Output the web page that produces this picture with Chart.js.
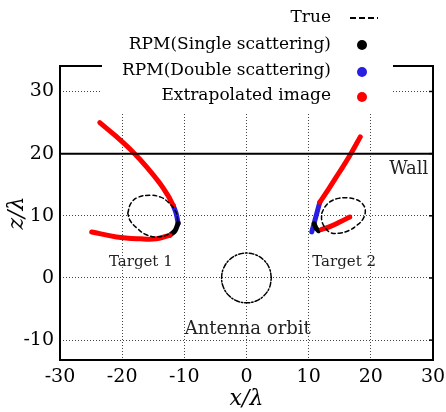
<!DOCTYPE html>
<html>
<head>
<meta charset="utf-8">
<script src="https://cdn.jsdelivr.net/npm/chart.js@4/dist/chart.umd.min.js"></script>
<style>
  html, body { margin: 0; padding: 0; background: #fff; }
  #wrap { width: 446px; height: 412px; }
</style>
</head>
<body>
<div id="wrap"><canvas id="chartCanvas" width="446" height="412"></canvas></div>
<script>
// axis ticks
const xTicks = [-30, -20, -10, 0, 10, 20, 30];
const yTicks = [-10, 0, 10, 20, 30];

// true shapes
const target1True = [[-19.1,10.4],[-18.6,12.0],[-17.4,13.0],[-15.5,13.3],[-13.8,13.0],[-12.6,12.2],[-11.5,10.9],[-11.1,9.5],[-11.4,8.2],[-12.4,7.1],[-14.4,6.6],[-16.2,7.0],[-17.6,8.0],[-18.7,9.2],[-19.1,10.4]];
const target2True = [[12.1,10.4],[12.6,11.4],[13.5,12.3],[14.8,12.8],[16.1,12.9],[17.4,12.7],[18.5,12.1],[19.1,11.0],[18.8,9.6],[17.8,8.5],[16.4,7.6],[14.9,7.2],[13.5,7.3],[12.5,8.3],[12.1,9.3],[12.1,10.4]];
const antennaOrbit = [[4,0],[3.7,1.53],[2.83,2.83],[1.53,3.7],[0,4],[-1.53,3.7],[-2.83,2.83],[-3.7,1.53],[-4,0],[-3.7,-1.53],[-2.83,-2.83],[-1.53,-3.7],[0,-4],[1.53,-3.7],[2.83,-2.83],[3.7,-1.53],[4,0]];
const wallLine = [[-30,20],[30,20]];

// extrapolated image (red)
const t1ExtraUpper = [[-23.6,25.0],[-21.0,22.8],[-18.2,20.2],[-16.0,17.8],[-14.0,15.3],[-12.6,13.2],[-11.8,11.7]];
const t1ExtraLower = [[-12.3,6.9],[-14.5,6.3],[-17.1,6.3],[-20.9,6.6],[-24.9,7.4]];
const t2ExtraUpper = [[18.3,22.7],[16.5,19.5],[14.8,16.8],[13.2,14.3],[11.8,12.2]];
const t2ExtraLower = [[12.1,7.8],[13.5,8.3],[15.0,9.0],[16.6,9.8]];

// RPM single scattering (black)
const t1Single = [[-11.0,8.8],[-11.5,7.6],[-12.3,6.9]];
const t2Single = [[10.9,8.7],[11.2,8.0],[11.6,7.6]];

// RPM double scattering (blue)
const t1Double = [[-11.8,11.7],[-11.3,10.3],[-11.0,8.8]];
const t2Double = [[11.8,12.2],[11.2,10.0],[10.5,7.4]];

const legendLabels = ["True", "RPM(Single scattering)", "RPM(Double scattering)", "Extrapolated image"];
const notes = [
    { text: "Target 1", x: -17.0, y: 2.6, size: 15 },
    { text: "Target 2", x: 15.7, y: 2.6, size: 15 },
    { text: "Antenna orbit", x: 0.2, y: -8.2, size: 18 },
    { text: "Wall", x: 26.1, y: 17.4, size: 18 }
];

const RED = "#ff0000";
const BLUE = "#2a1ee0";
const SERIF = "'DejaVu Serif', serif";

const pts = arr => arr.map(p => ({ x: p[0], y: p[1] }));

function curve(data, color, width, dash, tension) {
    return {
        data: pts(data),
        showLine: true,
        borderColor: color,
        backgroundColor: color,
        borderWidth: width,
        borderDash: dash || [],
        borderCapStyle: "round",
        borderJoinStyle: "round",
        pointRadius: 0,
        tension: tension === undefined ? 0.4 : tension
    };
}

const overlay = {
    id: "overlay",
    afterDraw(chart) {
        const c = chart.ctx;
        const a = chart.chartArea;
        const xs = chart.scales.x, ys = chart.scales.y;
        c.save();
        // frame
        c.strokeStyle = "#000";
        c.lineWidth = 2;
        c.strokeRect(a.left, a.top, a.right - a.left, a.bottom - a.top);
        // right side ticks
        c.lineWidth = 1.5;
        yTicks.forEach(v => {
            const py = ys.getPixelForValue(v);
            c.beginPath();
            c.moveTo(a.right, py);
            c.lineTo(a.right - 4, py);
            c.stroke();
        });
        // legend box
        c.fillStyle = "#fff";
        c.fillRect(102, 0, 291, 112);
        c.fillStyle = "#000";
        c.font = "17px " + SERIF;
        c.textAlign = "right";
        c.textBaseline = "middle";
        const rowY = [18, 45, 71, 96];
        legendLabels.forEach((t, i) => c.fillText(t, 331, rowY[i]));
        // markers
        c.strokeStyle = "#000";
        c.lineWidth = 2;
        c.setLineDash([6, 3]);
        c.beginPath();
        c.moveTo(350, 18);
        c.lineTo(378, 18);
        c.stroke();
        c.setLineDash([]);
        [["#000", 45], [BLUE, 72], [RED, 97]].forEach(m => {
            c.fillStyle = m[0];
            c.beginPath();
            c.arc(362, m[1], 5, 0, Math.PI * 2);
            c.fill();
        });
        // notes
        c.textAlign = "center";
        notes.forEach(n => {
            c.fillStyle = "#222";
            c.font = n.size + "px " + SERIF;
            c.fillText(n.text, xs.getPixelForValue(n.x), ys.getPixelForValue(n.y));
        });
        c.restore();
    }
};

const ctx = document.getElementById("chartCanvas").getContext("2d");
new Chart(ctx, {
    type: "scatter",
    data: {
        datasets: [
            curve(wallLine, "#000", 2, [], 0),
            curve(antennaOrbit, "#000", 1.5, [5, 2, 1.5, 2]),
            curve(target1True, "#000", 1.5, [4, 3]),
            curve(target2True, "#000", 1.5, [4, 3]),
            curve(t1ExtraUpper, RED, 5),
            curve(t1ExtraLower, RED, 5),
            curve(t2ExtraUpper, RED, 5),
            curve(t2ExtraLower, RED, 5),
            curve(t1Single, "#000", 5),
            curve(t2Single, "#000", 5),
            curve(t1Double, BLUE, 5),
            curve(t2Double, BLUE, 5)
        ]
    },
    options: {
        responsive: false,
        animation: false,
        layout: { padding: { top: 66, right: 13, left: 0, bottom: 0 } },
        plugins: {
            legend: { display: false },
            tooltip: { enabled: false }
        },
        scales: {
            x: {
                type: "linear",
                min: -30,
                max: 30,
                afterBuildTicks: s => { s.ticks = xTicks.map(v => ({ value: v })); },
                afterFit: s => { s.height = 52; s.paddingRight = 0; s.paddingLeft = 0; },
                ticks: { color: "#000", font: { family: SERIF, size: 19 }, padding: 6 },
                grid: { color: "#444", lineWidth: 1, drawTicks: false },
                border: { display: false, dash: [1, 2] },
                title: {
                    display: true, text: "x/λ", color: "#000",
                    font: { family: SERIF, size: 22, style: "italic" },
                    padding: { top: 0, bottom: 0 }
                }
            },
            y: {
                type: "linear",
                min: -13.2,
                max: 34.1,
                afterBuildTicks: s => { s.ticks = yTicks.map(v => ({ value: v })); },
                afterFit: s => { s.width = 60; },
                ticks: { color: "#000", font: { family: SERIF, size: 19 }, padding: 6 },
                grid: { color: "#444", lineWidth: 1, drawTicks: false },
                border: { display: false, dash: [1, 2] },
                title: {
                    display: true, text: "z/λ", color: "#000",
                    font: { family: SERIF, size: 22, style: "italic" },
                    padding: { top: 4, bottom: 0 }
                }
            }
        }
    },
    plugins: [overlay]
});
</script>
</body>
</html>
